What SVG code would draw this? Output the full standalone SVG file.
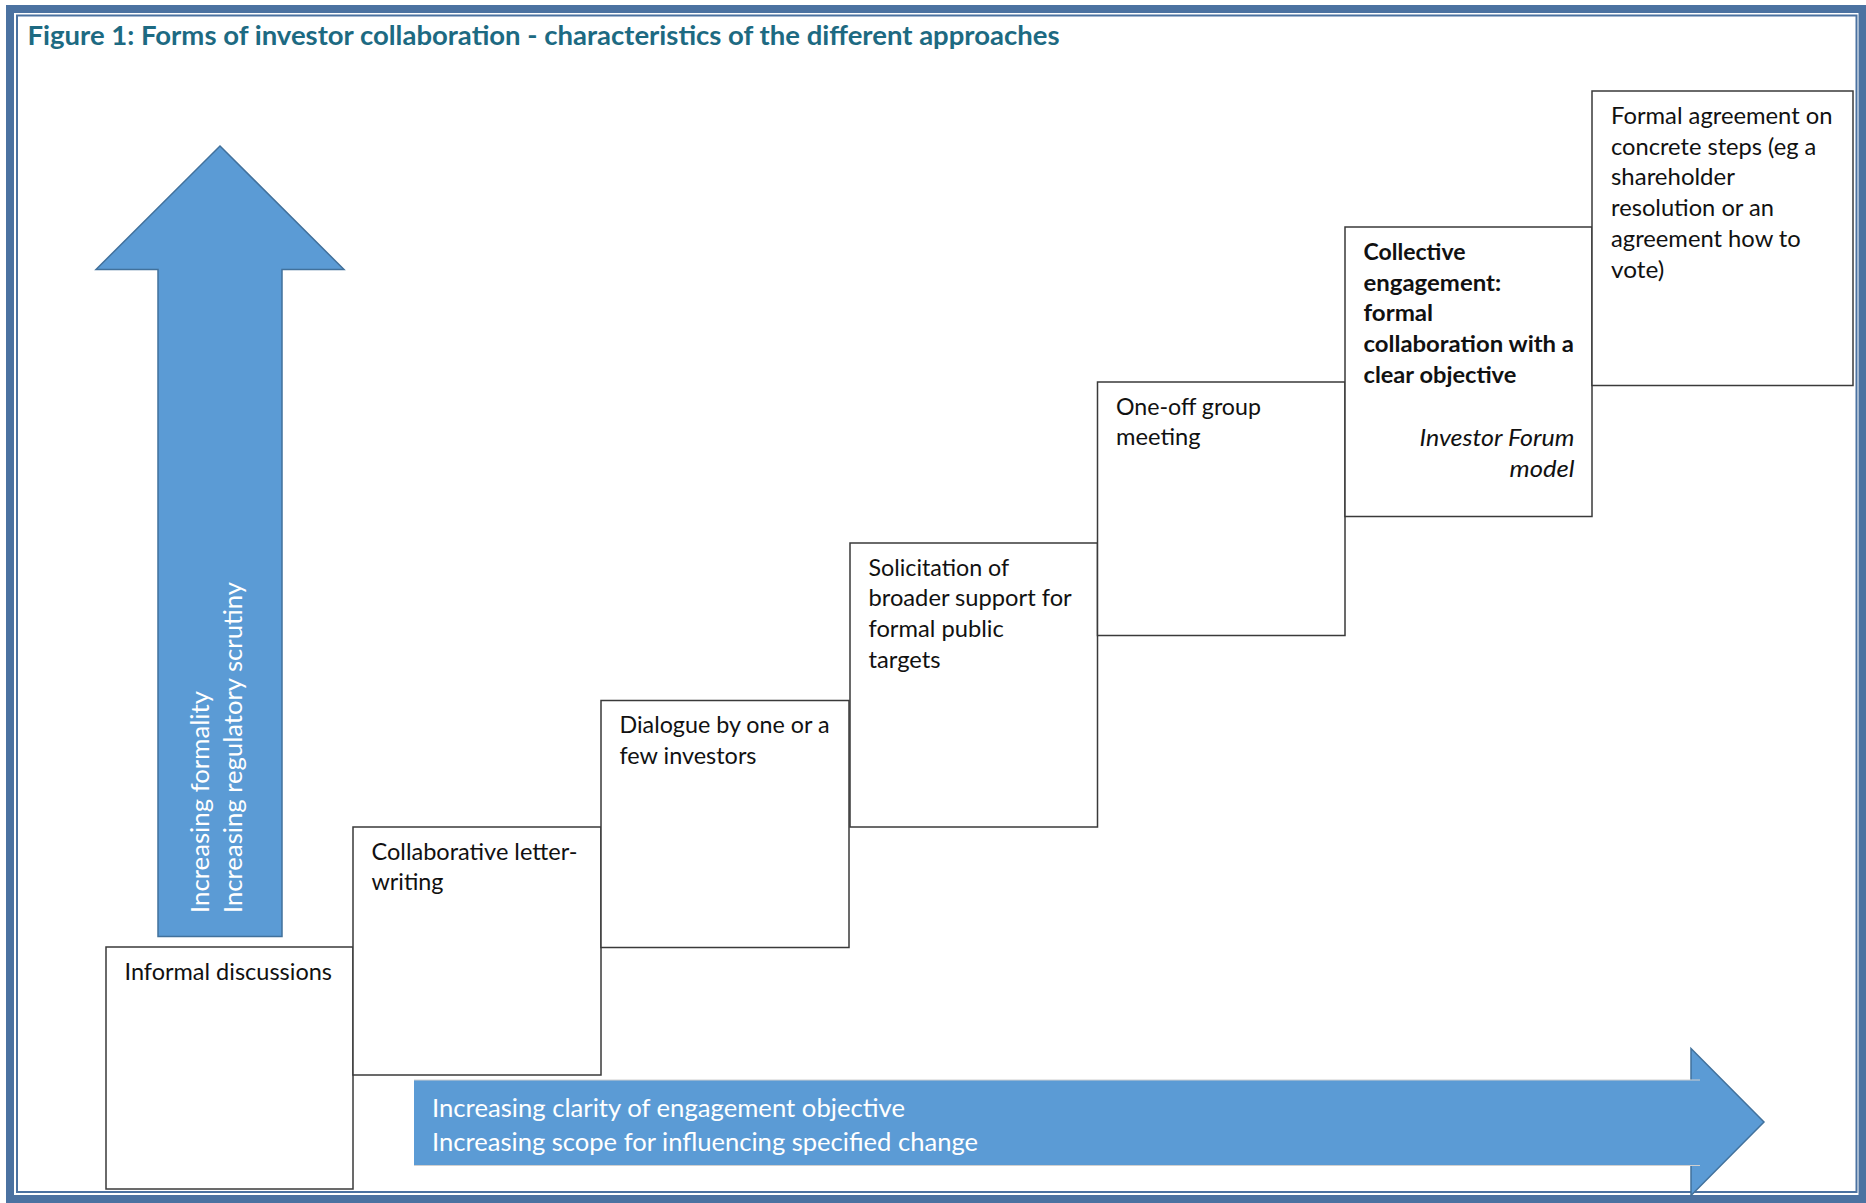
<svg xmlns="http://www.w3.org/2000/svg" width="1866" height="1203" viewBox="0 0 1866 1203">
  <style>
    .frame { fill: none; stroke: #4B72A1; }
    .title { font-family: Lato, "Liberation Sans", sans-serif; font-weight: bold; font-size: 26.5px; fill: #1D6A82; }
    .step { fill: #FFFFFF; stroke: #3A3A3A; stroke-width: 1.5; }
    .lbl { font-family: Lato, "Liberation Sans", sans-serif; font-size: 23px; fill: #111111; }
    .bold { font-weight: bold; }
    .ital { font-style: italic; }
    .arrow { fill: #5B9BD5; stroke: #41719C; stroke-width: 1.5; }
    .shaft { fill: #5B9BD5; }
    .shaft-edge { stroke: #D0D0D0; stroke-width: 1.2; }
    .atext { font-family: Lato, "Liberation Sans", sans-serif; font-size: 25px; fill: #FFFFFF; }
  </style>

  <rect width="1866" height="1203" fill="#FFFFFF"/>

  <!-- double page frame -->
  <rect class="frame" x="10" y="9" width="1852.5" height="1190" stroke-width="8"/>
  <rect class="frame" x="17" y="15.5" width="1839.5" height="1176.5" stroke-width="2"/>

  <text class="title" x="27.5" y="45" textLength="1032" lengthAdjust="spacingAndGlyphs">Figure 1: Forms of investor collaboration - characteristics of the different approaches</text>

  <!-- vertical arrow: formality / scrutiny -->
  <g id="arrow-formality">
    <path class="arrow" d="M220,146 L344,269.5 L282,269.5 L282,936.5 L158,936.5 L158,269.5 L96,269.5 Z"/>
    <text class="atext" transform="translate(208.5,913) rotate(-90)" textLength="222" lengthAdjust="spacingAndGlyphs">Increasing formality</text>
    <text class="atext" transform="translate(242,913) rotate(-90)" textLength="331" lengthAdjust="spacingAndGlyphs">Increasing regulatory scrutiny</text>
  </g>

  <!-- steps -->
  <g id="step-informal">
    <rect class="step" x="106" y="947" width="247" height="242"/>
    <text class="lbl" x="124.5" y="979.5" textLength="207.5" lengthAdjust="spacingAndGlyphs">Informal discussions</text>
  </g>

  <g id="step-letter">
    <rect class="step" x="353" y="827" width="248" height="248"/>
    <text class="lbl" x="371.5" y="859.5" textLength="206" lengthAdjust="spacingAndGlyphs">Collaborative letter-</text>
    <text class="lbl" x="371.5" y="890.2" textLength="72" lengthAdjust="spacingAndGlyphs">writing</text>
  </g>

  <g id="step-dialogue">
    <rect class="step" x="601" y="700.5" width="248" height="247"/>
    <text class="lbl" x="619.5" y="733" textLength="210" lengthAdjust="spacingAndGlyphs">Dialogue by one or a</text>
    <text class="lbl" x="619.5" y="763.7" textLength="137" lengthAdjust="spacingAndGlyphs">few investors</text>
  </g>

  <g id="step-solicitation">
    <rect class="step" x="850" y="543" width="247.5" height="284"/>
    <text class="lbl" x="868.5" y="575.5" textLength="140.7" lengthAdjust="spacingAndGlyphs">Solicitation of</text>
    <text class="lbl" x="868.5" y="606.2" textLength="203.2" lengthAdjust="spacingAndGlyphs">broader support for</text>
    <text class="lbl" x="868.5" y="636.9" textLength="135.3" lengthAdjust="spacingAndGlyphs">formal public</text>
    <text class="lbl" x="868.5" y="667.6" textLength="72" lengthAdjust="spacingAndGlyphs">targets</text>
  </g>

  <g id="step-group-meeting">
    <rect class="step" x="1097.5" y="382" width="247.5" height="253.5"/>
    <text class="lbl" x="1116" y="414.5" textLength="144.9" lengthAdjust="spacingAndGlyphs">One-off group</text>
    <text class="lbl" x="1116" y="445.2" textLength="84.5" lengthAdjust="spacingAndGlyphs">meeting</text>
  </g>

  <g id="step-collective">
    <rect class="step" x="1345" y="227" width="247" height="289.5"/>
    <text class="lbl bold" x="1363.5" y="260" textLength="102" lengthAdjust="spacingAndGlyphs">Collective</text>
    <text class="lbl bold" x="1363.5" y="290.7" textLength="137.6" lengthAdjust="spacingAndGlyphs">engagement:</text>
    <text class="lbl bold" x="1363.5" y="321.4" textLength="69.6" lengthAdjust="spacingAndGlyphs">formal</text>
    <text class="lbl bold" x="1363.5" y="352.1" textLength="210.5" lengthAdjust="spacingAndGlyphs">collaboration with a</text>
    <text class="lbl bold" x="1363.5" y="382.8" textLength="152.8" lengthAdjust="spacingAndGlyphs">clear objective</text>
    <text class="lbl ital" x="1574.5" y="446" text-anchor="end" textLength="155" lengthAdjust="spacingAndGlyphs">Investor Forum</text>
    <text class="lbl ital" x="1574.5" y="476.7" text-anchor="end" textLength="65" lengthAdjust="spacingAndGlyphs">model</text>
  </g>

  <g id="step-formal-agreement">
    <rect class="step" x="1592" y="91" width="261" height="294.5"/>
    <text class="lbl" x="1611" y="124" textLength="221.5" lengthAdjust="spacingAndGlyphs">Formal agreement on</text>
    <text class="lbl" x="1611" y="154.7" textLength="205.3" lengthAdjust="spacingAndGlyphs">concrete steps (eg a</text>
    <text class="lbl" x="1611" y="185.4" textLength="123.9" lengthAdjust="spacingAndGlyphs">shareholder</text>
    <text class="lbl" x="1611" y="216.1" textLength="163" lengthAdjust="spacingAndGlyphs">resolution or an</text>
    <text class="lbl" x="1611" y="246.8" textLength="189.8" lengthAdjust="spacingAndGlyphs">agreement how to</text>
    <text class="lbl" x="1611" y="277.5" textLength="53.3" lengthAdjust="spacingAndGlyphs">vote)</text>
  </g>

  <!-- horizontal arrow: clarity / scope -->
  <g id="arrow-clarity">
    <path class="arrow" d="M1691,1048.5 L1764,1122 L1691,1195.5 Z"/>
    <rect class="shaft" x="414" y="1080" width="1286" height="85.5"/>
    <path class="shaft-edge" d="M414,1080 H1700 M414,1165.5 H1700"/>
    <text class="atext" x="432" y="1117" textLength="473" lengthAdjust="spacingAndGlyphs">Increasing clarity of engagement objective</text>
    <text class="atext" x="432" y="1150.5" textLength="546" lengthAdjust="spacingAndGlyphs">Increasing scope for influencing specified change</text>
  </g>
</svg>
